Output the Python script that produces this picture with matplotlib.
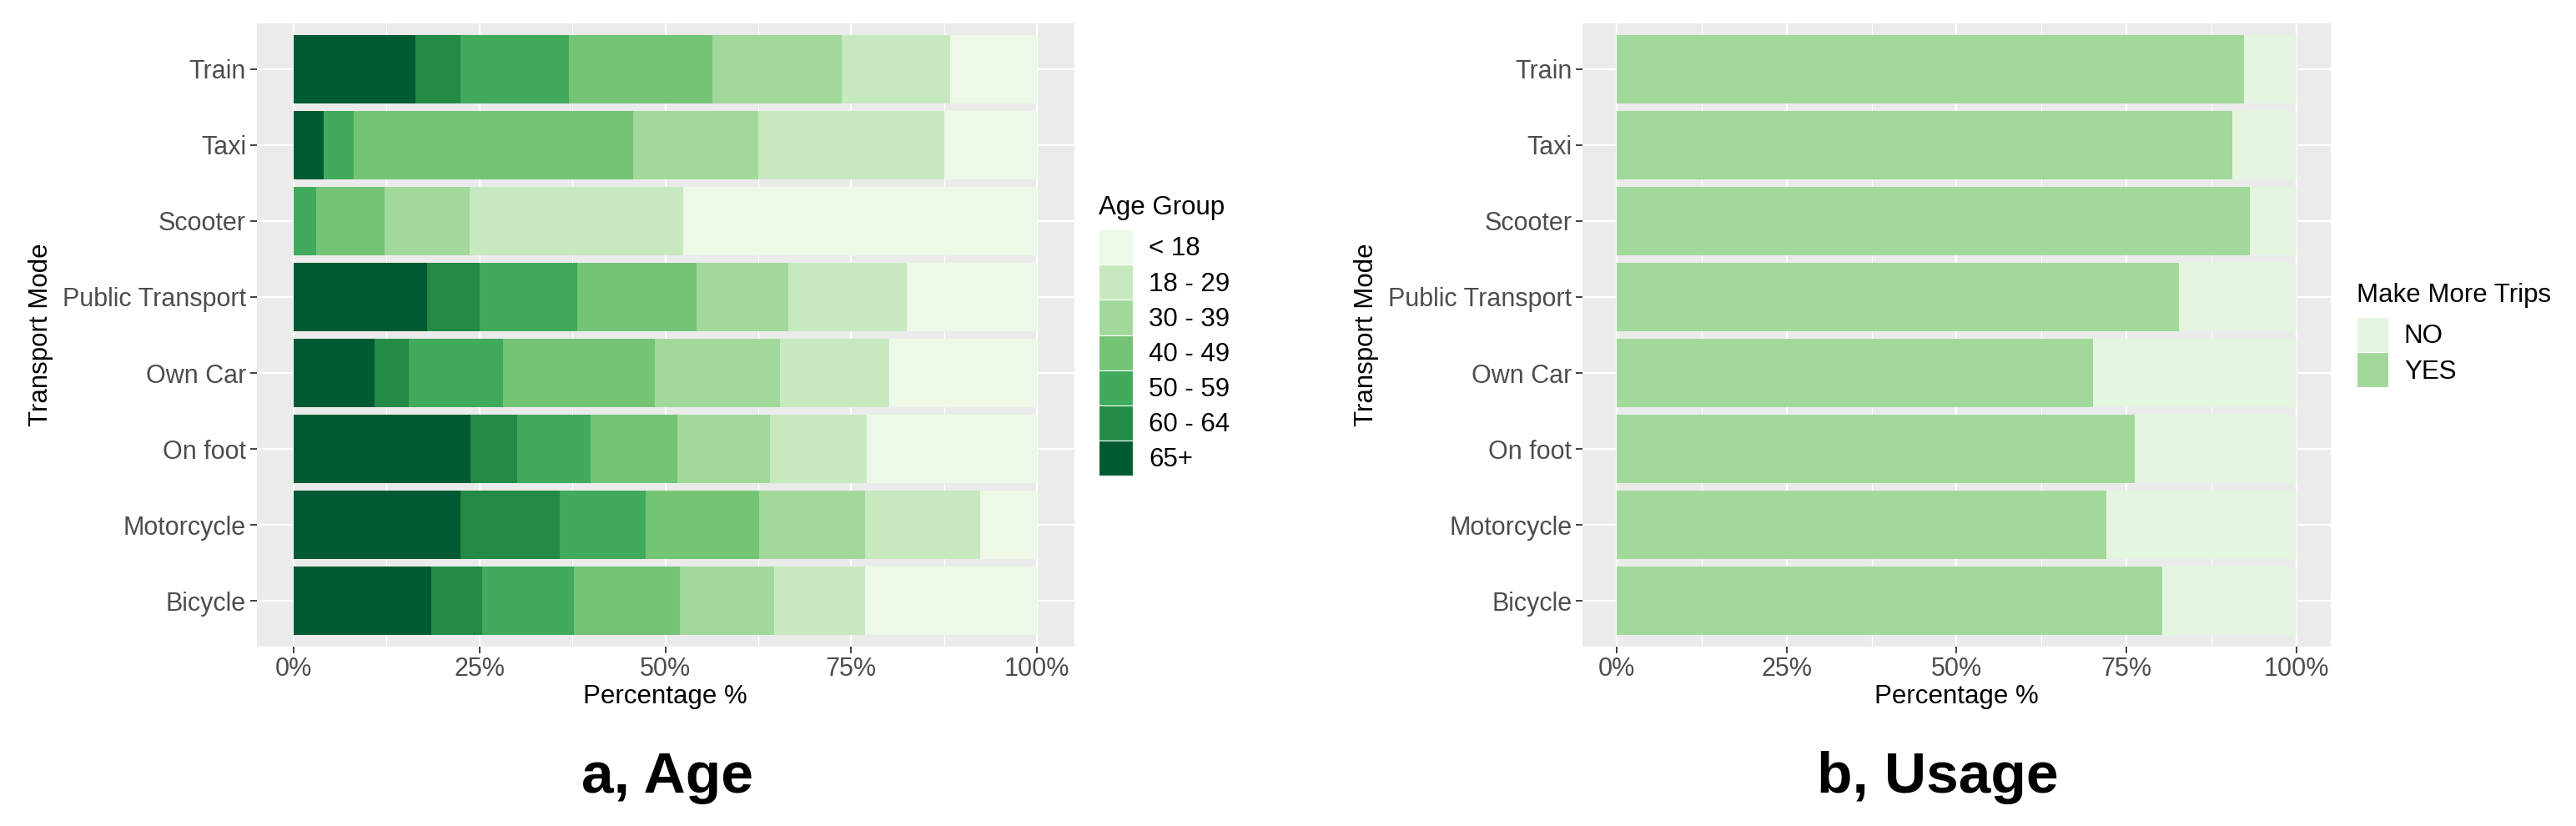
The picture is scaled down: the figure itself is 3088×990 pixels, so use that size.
import matplotlib

matplotlib.use("Agg")
import matplotlib.pyplot as plt
import numpy as np
from matplotlib.patches import Patch
from matplotlib.ticker import FixedLocator, PercentFormatter

plt.rcParams["font.family"] = ["Liberation Sans", "DejaVu Sans"]

W, H = 3088, 990

MODES = ["Bicycle", "Motorcycle", "On foot", "Own Car", "Public Transport", "Scooter", "Taxi", "Train"]

# age shares (%) per mode, stacked left to right from 65+ down to < 18
AGE_GROUPS = ["65+", "60 - 64", "50 - 59", "40 - 49", "30 - 39", "18 - 29", "< 18"]
AGE_65_PLUS = [18.5, 22.4, 23.8, 10.9, 17.9, 0.0, 4.0, 16.4]
AGE_60_64 = [6.9, 13.4, 6.3, 4.6, 7.1, 0.0, 0.0, 6.0]
AGE_50_59 = [12.3, 11.6, 9.8, 12.7, 13.2, 3.0, 4.1, 14.6]
AGE_40_49 = [14.3, 15.2, 11.7, 20.4, 16.0, 9.2, 37.6, 19.3]
AGE_30_39 = [12.7, 14.3, 12.5, 16.8, 12.3, 11.5, 16.8, 17.4]
AGE_18_29 = [12.2, 15.5, 13.0, 14.7, 16.0, 28.7, 25.1, 14.6]
AGE_UNDER_18 = [23.1, 7.6, 22.9, 19.9, 17.5, 47.6, 12.4, 11.7]
AGE_COLORS = ["#005a32", "#238b45", "#41ab5d", "#74c476", "#a1d99b", "#c7e9c0", "#edf8e9"]

# "Make More Trips" shares (%)
TRIPS_YES = [80.2, 72.0, 76.2, 70.1, 82.7, 93.1, 90.5, 92.3]
TRIPS_NO = [19.8, 28.0, 23.8, 29.9, 17.3, 6.9, 9.5, 7.7]
TRIPS_COLORS = {"YES": "#a1d99b", "NO": "#e5f5e0"}

PANEL_BG = "#EBEBEB"
TICK_TEXT = "#4D4D4D"
FS_TICK = 22
FS_TEXT = 22.5


def style_ggplot_axis(ax):
    ax.set_facecolor(PANEL_BG)
    for spine in ax.spines.values():
        spine.set_visible(False)
    ax.set_xlim(-5, 105)
    ax.set_ylim(0.4, len(MODES) + 0.6)
    ax.xaxis.set_major_locator(FixedLocator([0, 25, 50, 75, 100]))
    ax.xaxis.set_minor_locator(FixedLocator([12.5, 37.5, 62.5, 87.5]))
    ax.xaxis.set_major_formatter(PercentFormatter(100, decimals=0))
    ax.set_yticks(np.arange(1, len(MODES) + 1), MODES)
    ax.grid(which="major", color="white", linewidth=1.6)
    ax.grid(which="minor", axis="x", color="white", linewidth=0.8)
    ax.set_axisbelow(True)
    ax.tick_params(which="major", length=6, width=1.3, color="#333333",
                   labelcolor=TICK_TEXT, labelsize=FS_TICK, pad=3)
    ax.tick_params(which="minor", length=0)
    ax.set_xlabel("Percentage %", fontsize=FS_TEXT, labelpad=2)
    ax.set_ylabel("Transport Mode", fontsize=FS_TEXT, labelpad=8)


def add_legend(fig, handles, title, x_px, y_px, handlelength):
    leg = fig.legend(handles=handles, loc="upper left", bbox_to_anchor=(x_px / W, 1 - y_px / H),
                     frameon=False, title=title, alignment="left", fontsize=FS_TEXT,
                     title_fontsize=FS_TEXT, handlelength=handlelength, handleheight=1.7,
                     labelspacing=0, handletextpad=0.6, borderpad=0, borderaxespad=0)
    leg._legend_box.sep = 8
    return leg


fig = plt.figure(figsize=(W / 100, H / 100), dpi=100)
ax_age = fig.add_axes([307.5 / W, 1 - 775 / H, 980 / W, 747 / H])
ax_use = fig.add_axes([1897 / W, 1 - 775 / H, 897 / W, 747 / H])

y = np.arange(1, len(MODES) + 1)

age_series = [AGE_65_PLUS, AGE_60_64, AGE_50_59, AGE_40_49, AGE_30_39, AGE_18_29, AGE_UNDER_18]
left = np.zeros(len(MODES))
for label, values, color in zip(AGE_GROUPS, age_series, AGE_COLORS):
    ax_age.barh(y, values, left=left, height=0.9, color=color, linewidth=0, label=label)
    left += np.array(values)
style_ggplot_axis(ax_age)

ax_use.barh(y, TRIPS_YES, height=0.9, color=TRIPS_COLORS["YES"], linewidth=0)
ax_use.barh(y, TRIPS_NO, left=TRIPS_YES, height=0.9, color=TRIPS_COLORS["NO"], linewidth=0)
style_ggplot_axis(ax_use)

age_handles = [Patch(facecolor=c, edgecolor="white", linewidth=0.8, label=l)
               for l, c in zip(AGE_GROUPS[::-1], AGE_COLORS[::-1])]
add_legend(fig, age_handles, "Age Group", 1317, 234, 1.32)

trip_handles = [Patch(facecolor=TRIPS_COLORS[k], edgecolor="white", linewidth=0.8, label=k)
                for k in ["NO", "YES"]]
add_legend(fig, trip_handles, "Make More Trips", 2825, 339, 1.22)

fig.text(800 / W, 1 - 950 / H, "a, Age", ha="center", va="baseline", fontsize=50, fontweight="bold")
fig.text(2323 / W, 1 - 950 / H, "b, Usage", ha="center", va="baseline", fontsize=50, fontweight="bold")

fig.savefig("out.png", dpi=100, facecolor="white")
plt.close(fig)
